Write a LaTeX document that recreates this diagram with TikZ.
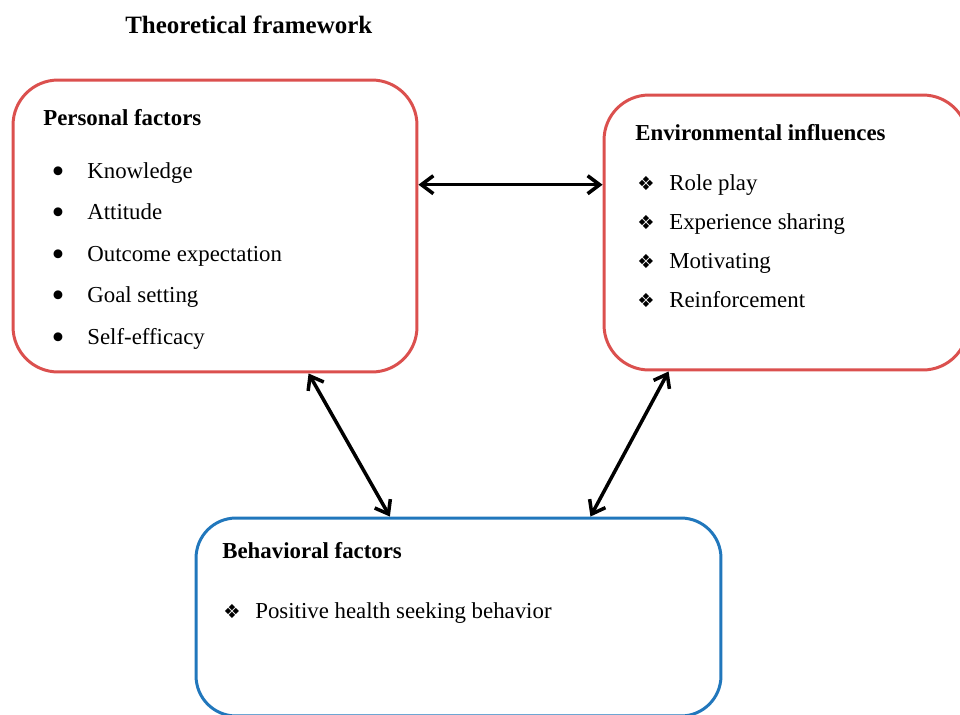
\documentclass[tikz,border=0pt]{standalone}
\usepackage{fontspec}
\setmainfont{Liberation Serif}
\newfontfamily\symfont{DejaVu Sans}
\usetikzlibrary{positioning, calc, arrows.meta}
\definecolor{boxred}{RGB}{219,80,78}
\definecolor{boxblue}{RGB}{33,119,188}
\tikzset{
	factor box/.style={draw, line width=1.7pt, rounded corners=0.9cm, inner sep=0pt},
	item text/.style={anchor=base west, inner sep=0pt, font=\fontsize{13}{15}\selectfont},
	head text/.style={anchor=base west, inner sep=0pt, font=\fontsize{13}{15}\selectfont\bfseries},
	sym text/.style={anchor=base west, inner sep=0pt, font=\fontsize{11}{13}\selectfont\symfont},
	dot text/.style={anchor=center, inner sep=0pt, font=\fontsize{21}{21}\selectfont},
	link/.style={{Straight Barb[length=2.4mm,width=3.6mm]}-{Straight Barb[length=2.4mm,width=3.6mm]}, line width=2pt, line join=round},
}

\begin{document}
\begin{tikzpicture}[x=0.02cm, y=-0.02cm]
			\useasboundingbox (0,0) rectangle (960,714);
			\clip (0,0) rectangle (960,714);
			\path (125,33) node[head text, font=\fontsize{14.2}{16}\selectfont\bfseries] (title) {Theoretical framework};
			\path node[factor box, boxred, minimum width=8.08cm, minimum height=5.84cm] (pers box) at (215,226) {};
			\path node[factor box, boxred, minimum width=7.28cm, minimum height=5.5cm] (env box) at (786,232.5) {};
			\path node[factor box, boxblue, minimum width=10.5cm, minimum height=3.96cm, rounded corners=0.8cm] (beh box) at (458.5,617) {};
			\path (43,125) node[head text] (pers head) {Personal factors};
			\foreach \txt [count=\i] in {Knowledge, Attitude, Outcome expectation, Goal setting, Self-efficacy} {
				\path (87,{178+41.5*(\i-1)}) node[item text] (pf \i) {\txt};
				\path (pf \i.base west) ++(-29,-3) node[dot text] (pf dot \i) {\textbullet};
			}
			\path (635,140) node[head text] (env head) {Environmental influences};
			\foreach \txt [count=\i] in {Role play, Experience sharing, Motivating, Reinforcement} {
				\path (669,{190+39.3*(\i-1)}) node[item text] (ei \i) {\txt};
				\path (ei \i.base west) ++(-32,0) node[sym text] (ei sym \i) {❖};
			}
			\path (222,558) node[head text] (beh head) {Behavioral factors};
			\path (255,618) node[item text] (bf 1) {Positive health seeking behavior};
			\path (bf 1.base west) ++(-32,0) node[sym text] (bf sym 1) {❖};
			\path ($(pers box.north east)!0.36!(pers box.south east)$) coordinate (pe link);
			\draw[link] (pe link) -- (pe link -| env box.west);
			\draw[link] ($(pers box.south west)!0.73!(pers box.south east)$) -- ($(beh box.north west)!0.37!(beh box.north east)$);
			\draw[link] ($(env box.south west)!0.18!(env box.south east)$) -- ($(beh box.north west)!0.75!(beh box.north east)$);
		\end{tikzpicture}
\end{document}
